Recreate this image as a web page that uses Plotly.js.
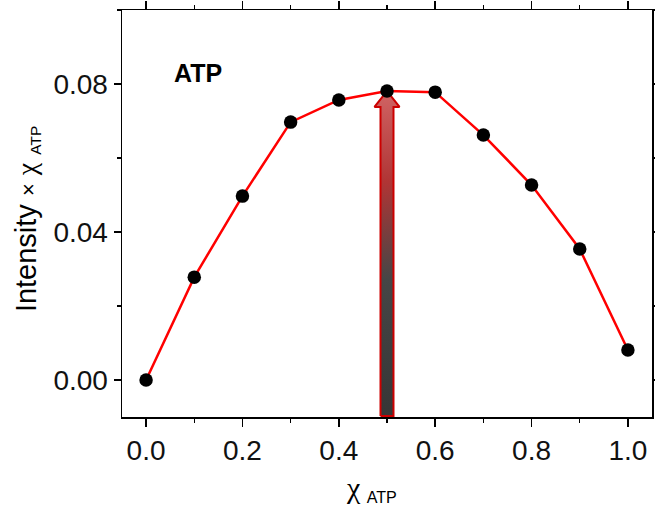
<!DOCTYPE html>
<html>
<head>
<meta charset="utf-8">
<script src="https://cdn.plot.ly/plotly-3.0.1.min.js"></script>
<style>html,body{margin:0;padding:0;background:#fff;}#chart{width:655px;height:506px;}</style>
</head>
<body>
<div id="chart"></div>
<script>
// Data
const xValues = [0.0, 0.1, 0.2, 0.3, 0.4, 0.5, 0.6, 0.7, 0.8, 0.9, 1.0];
const yValues = [0.0, 0.0278, 0.0497, 0.0697, 0.0757, 0.0781, 0.0778, 0.0662, 0.0527, 0.0354, 0.0081];
const xTickVals = [0.0, 0.2, 0.4, 0.6, 0.8, 1.0];
const xTickText = ["0.0", "0.2", "0.4", "0.6", "0.8", "1.0"];
const yTickVals = [0.00, 0.04, 0.08];
const yTickText = ["0.00", "0.04", "0.08"];
const xRange = [-0.05, 1.05];
const yRange = [-0.01, 0.10];

// Arrow pointing at the maximum (x = 0.5)
const arrowIndex = 5;
const ax = xValues[arrowIndex];
const aTop = yValues[arrowIndex];
const aBottom = yRange[0] + 0.0003;
const shaftHalf = 0.0135, headHalf = 0.026, headLen = 0.0043;
const arrowX = [ax - shaftHalf, ax - shaftHalf, ax - headHalf, ax, ax + headHalf, ax + shaftHalf, ax + shaftHalf, ax - shaftHalf];
const arrowY = [aBottom, aTop - headLen, aTop - headLen, aTop, aTop - headLen, aTop - headLen, aBottom, aBottom];

const font = "Liberation Sans, Arial, sans-serif";
function chi(size) {
  return "<span style=\"font-family:Liberation Serif;font-size:" + size + "px\">χ</span>";
}
function small(text, size) {
  return "<span style=\"font-size:" + size + "px\">" + text + "</span>";
}

const traces = [
  {
    x: arrowX, y: arrowY, mode: "lines", fill: "toself",
    line: {color: "#cc0000", width: 2},
    fillgradient: {type: "vertical", colorscale: [[0, "#363636"], [0.42, "#464646"], [0.72, "#b03535"], [1, "#d06464"]]},
    hoverinfo: "skip", showlegend: false
  },
  {
    x: xValues, y: yValues, mode: "lines+markers",
    line: {color: "#ff0000", width: 2.5},
    marker: {color: "#000000", size: 13.5},
    showlegend: false
  }
];

const layout = {
  width: 655, height: 506,
  margin: {l: 122, r: 3, t: 10, b: 89},
  paper_bgcolor: "#ffffff", plot_bgcolor: "#ffffff",
  font: {family: font, color: "#000000", size: 28},
  xaxis: {
    range: xRange, tickvals: xTickVals, ticktext: xTickText,
    ticks: "outside", ticklen: 8, tickwidth: 1.5, tickcolor: "#000",
    minor: {dtick: 0.1, tick0: 0, ticks: "outside", ticklen: 4, tickwidth: 1.5, tickcolor: "#000"},
    showline: true, linecolor: "#000", linewidth: 1.5, mirror: "allticks",
    showgrid: false, zeroline: false,
    tickfont: {size: 28, family: font, color: "#111"}
  },
  yaxis: {
    range: yRange, tickvals: yTickVals, ticktext: yTickText,
    ticks: "outside", ticklen: 7, tickwidth: 1.5, tickcolor: "#000",
    minor: {dtick: 0.02, tick0: 0, ticks: "outside", ticklen: 4, tickwidth: 1.5, tickcolor: "#000"},
    showline: true, linecolor: "#000", linewidth: 1.5, mirror: "allticks",
    showgrid: false, zeroline: false,
    tickfont: {size: 28, family: font, color: "#111"}
  },
  annotations: [
    {xref: "paper", yref: "paper", x: 0.094, y: 0.845, xanchor: "left", yanchor: "middle",
     text: "<b>ATP</b>", showarrow: false, font: {size: 25, family: font, color: "#000"}},
    {xref: "paper", yref: "paper", x: 0.47, y: -0.175, xanchor: "center", yanchor: "middle",
     text: chi(30) + " <sub>ATP</sub>", showarrow: false,
     font: {size: 23, family: font, color: "#000"}},
    {xref: "paper", yref: "paper", x: -0.179, y: 0.4865, xanchor: "center", yanchor: "middle", textangle: -90,
     text: "Intensity " + small("×", 22) + " " + chi(28) + " " + small("<sub>ATP</sub>", 22),
     showarrow: false, font: {size: 29, family: font, color: "#000"}}
  ]
};

Plotly.newPlot("chart", traces, layout, {displayModeBar: false, staticPlot: true});
</script>
</body>
</html>
